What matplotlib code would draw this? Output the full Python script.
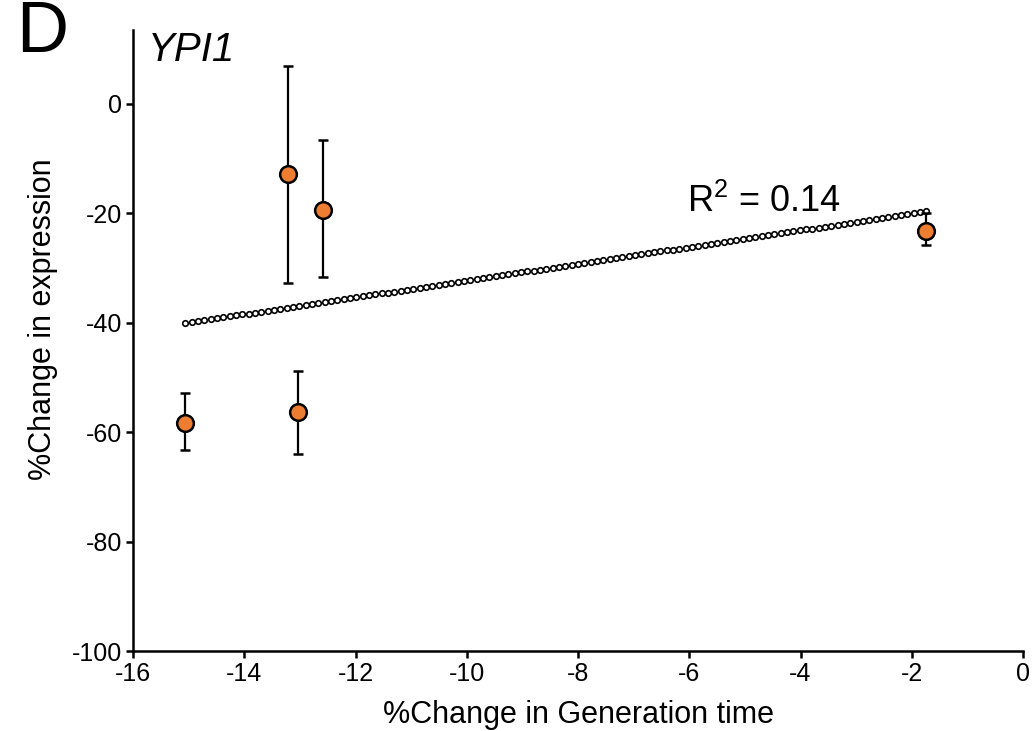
import numpy as np
import matplotlib
matplotlib.use("Agg")
import matplotlib.pyplot as plt

plt.rcParams['font.family'] = ['Liberation Sans', 'DejaVu Sans']
plt.rcParams['axes.unicode_minus'] = False

# data
gen_time = [-15.06, -13.22, -12.59, -13.04, -1.74]
expr = [-58.4, -12.8, -19.4, -56.4, -23.2]
err_low = [4.9, 20.0, 12.2, 7.6, 2.6]
err_high = [5.5, 19.7, 12.8, 7.5, 3.2]

xticks = [-16, -14, -12, -10, -8, -6, -4, -2, 0]
yticks = [-100, -80, -60, -40, -20, 0]

fig = plt.figure(figsize=(10.36, 7.31), dpi=100)
ax = fig.add_axes([0.1284, 0.1094, 0.8591, 0.8496])

# linear trend line drawn as little open circles
slope, icpt = np.polyfit(gen_time, expr, 1)
xs = np.linspace(min(gen_time), max(gen_time), 118)
ax.plot(xs, slope * xs + icpt, ls='none', marker='o', ms=4.0,
        mfc='white', mec='black', mew=1.2, zorder=2)

ax.errorbar(gen_time, expr, yerr=[err_low, err_high], fmt='o', ms=12,
            mfc='#ED7D31', mec='black', mew=1.8, ecolor='black',
            elinewidth=1.6, capsize=3.6, capthick=1.6, zorder=3)

ax.text(-6.05, -19.7, r'R$^{\mathregular{2}}$ = 0.14', fontsize=26)

ax.set_xlim(-16, 0)
ax.set_ylim(-100, 13.5)
ax.set_xticks(xticks)
ax.set_yticks(yticks)
ax.tick_params(labelsize=18, width=1.8, length=5, direction='out', pad=3)
for s in ['top', 'right']:
    ax.spines[s].set_visible(False)
for s in ['left', 'bottom']:
    ax.spines[s].set_linewidth(1.8)

ax.set_xlabel('%Change in Generation time', fontsize=22, labelpad=10)
ax.set_ylabel('%Change in expression', fontsize=22)
ax.yaxis.set_label_coords(-0.084, 0.535)

fig.text(0.016, 1.0, 'D', fontsize=52, va='top', ha='left')
fig.text(0.143, 0.958, 'YPI1', fontsize=29, style='italic', va='top', ha='left')

fig.savefig('out.png', dpi=100)
